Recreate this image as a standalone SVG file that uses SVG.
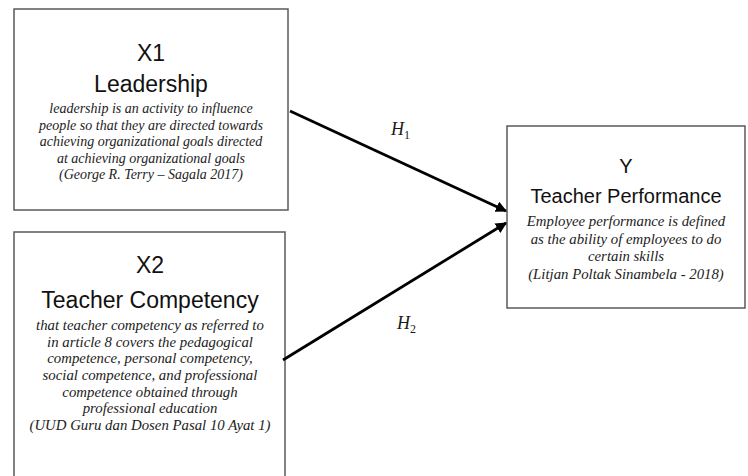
<svg xmlns="http://www.w3.org/2000/svg" width="748" height="476" viewBox="0 0 748 476">
  <style>
    .box { fill: #ffffff; stroke: #5a5a5a; stroke-width: 1.5; }
    .title { font-family: "Liberation Sans", Arial, sans-serif; font-size: 23px; fill: #111; text-anchor: middle; }
    .desc { font-family: "Liberation Serif", "Times New Roman", serif; font-style: italic; font-size: 14px; fill: #222; text-anchor: middle; }
    .desc-x2 { font-size: 14.8px; }
    .desc-y { font-size: 14.8px; }
    .hyp { font-family: "Liberation Serif", "Times New Roman", serif; font-style: italic; font-size: 18px; fill: #1a1a1a; }
    .sub { font-style: normal; font-size: 12px; }
    .link { stroke: #000; stroke-width: 2.8; fill: none; marker-end: url(#arrow); }
  </style>
  <defs>
    <marker id="arrow" viewBox="0 0 10 10" refX="9" refY="5" markerWidth="4" markerHeight="4" orient="auto" markerUnits="strokeWidth">
      <path d="M0,0 L10,5 L0,10 z" fill="#000"/>
    </marker>
  </defs>
  <rect width="748" height="476" fill="#ffffff"/>

  <g id="x1-leadership">
    <rect class="box" x="14" y="9" width="274" height="201"/>
    <text class="title" x="151" y="61">X1</text>
    <text class="title" x="151" y="92">Leadership</text>
    <text class="desc" x="151" y="113">leadership is an activity to influence</text>
    <text class="desc" x="151" y="130">people so that they are directed towards</text>
    <text class="desc" x="151" y="146">achieving organizational goals directed</text>
    <text class="desc" x="151" y="163">at achieving organizational goals</text>
    <text class="desc" x="151" y="179">(George R. Terry – Sagala 2017)</text>
  </g>

  <g id="x2-teacher-competency">
    <rect class="box" x="14" y="232" width="271" height="260"/>
    <text class="title" x="150" y="273">X2</text>
    <text class="title" x="150" y="308">Teacher Competency</text>
    <text class="desc desc-x2" x="150" y="330">that teacher competency as referred to</text>
    <text class="desc desc-x2" x="150" y="347">in article 8 covers the pedagogical</text>
    <text class="desc desc-x2" x="150" y="363">competence, personal competency,</text>
    <text class="desc desc-x2" x="150" y="380">social competence, and professional</text>
    <text class="desc desc-x2" x="150" y="397">competence obtained through</text>
    <text class="desc desc-x2" x="150" y="413">professional education</text>
    <text class="desc desc-x2" x="150" y="430">(UUD Guru dan Dosen Pasal 10 Ayat 1)</text>
  </g>

  <g id="y-teacher-performance">
    <rect class="box" x="507" y="126" width="238" height="182"/>
    <text class="title" x="626" y="173" style="font-size:20px">Y</text>
    <text class="title" x="626" y="203" style="font-size:20px">Teacher Performance</text>
    <text class="desc desc-y" x="626" y="226">Employee performance is defined</text>
    <text class="desc desc-y" x="626" y="244">as the ability of employees to do</text>
    <text class="desc desc-y" x="626" y="261">certain skills</text>
    <text class="desc desc-y" x="626" y="279">(Litjan Poltak Sinambela - 2018)</text>
  </g>

  <g id="connectors">
    <line class="link" x1="290" y1="111" x2="506" y2="211"/>
    <line class="link" x1="283" y1="360" x2="506" y2="223"/>
    <text class="hyp" x="391" y="135">H<tspan class="sub" dy="4">1</tspan></text>
    <text class="hyp" x="397" y="329">H<tspan class="sub" dy="4">2</tspan></text>
  </g>
</svg>
